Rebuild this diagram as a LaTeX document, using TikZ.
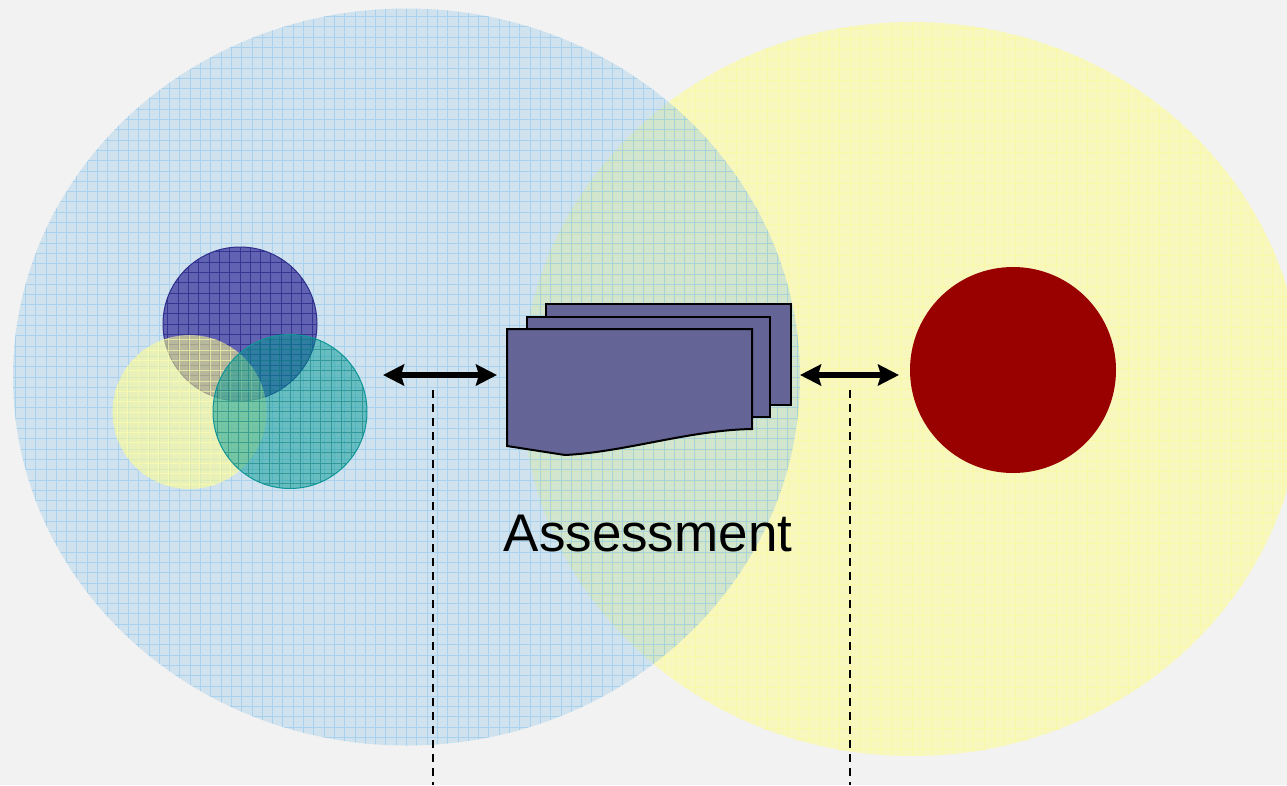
\documentclass[tikz,border=0pt]{standalone}
\usepackage{fontspec}
\setmainfont{Liberation Sans}
\usetikzlibrary{shapes.geometric,arrows.meta}
\definecolor{bg}{HTML}{F2F2F2}
\definecolor{bigyellow}{HTML}{F8F8BE}
\definecolor{bigyellowgrid}{HTML}{F8F8A6}
\definecolor{bigblue}{RGB}{155,202,232}
\definecolor{bigbluegrid}{RGB}{120,190,235}
\definecolor{smallblue}{HTML}{6262B2}
\definecolor{smallbluegrid}{HTML}{2A2A8A}
\definecolor{smallblueedge}{HTML}{2E2E8C}
\definecolor{smallyellow}{RGB}{255,255,140}
\definecolor{smallyellowgrid}{RGB}{255,255,170}
\definecolor{teal}{RGB}{0,154,148}
\definecolor{tealgrid}{RGB}{0,120,120}
\definecolor{tealedge}{RGB}{16,150,150}
\definecolor{docfill}{HTML}{646496}
\definecolor{darkred}{HTML}{990000}
\tikzset{
  gridded/.style={path picture={\draw[step=10.3pt,line width=0.9pt,#1]
      (path picture bounding box.south west) grid (path picture bounding box.north east);}},
  bigoval/.style={ellipse, inner sep=0pt, draw=none},
  smallcirc/.style={circle, inner sep=0pt, minimum size=154pt},
  sheet/.style={draw=black, line width=2pt, fill=docfill, line join=miter},
  twoway/.style={line width=5.5pt, {Stealth[length=21pt,width=21pt,inset=3pt]}-{Stealth[length=21pt,width=21pt,inset=3pt]}},
  guide/.style={line width=2.4pt, dash pattern=on 8pt off 6pt},
}
\begin{document}
\begin{tikzpicture}[x=1pt,y=-1pt]
\useasboundingbox[fill=bg] (0,0) rectangle (1287,785);
% large ovals
\node[bigoval, minimum width=780pt, minimum height=734pt, fill=bigyellow,
  gridded={draw=bigyellowgrid}] (yellowzone) at (912,389) {};
\node[bigoval, minimum width=787pt, minimum height=737pt, fill=bigblue, fill opacity=0.4,
  gridded={draw=bigbluegrid, draw opacity=0.45}] (bluezone) at (406.5,377) {};
% three small circles
\node[smallcirc, fill=smallblue, draw=smallblueedge, line width=1pt,
  gridded={draw=smallbluegrid, draw opacity=0.8}] (cblue) at (240,324) {};
\node[smallcirc, fill=smallyellow, fill opacity=0.55,
  gridded={draw=smallyellowgrid, draw opacity=0.6}] (cyellow) at (189.5,412) {};
\node[smallcirc, fill=teal, fill opacity=0.5, draw=tealedge, line width=1pt,
  gridded={draw=tealgrid, draw opacity=0.5}] (cteal) at (290,411.5) {};
% document stack
\node[sheet, rectangle, inner sep=0pt, minimum width=245pt, minimum height=101pt] (sheetback) at (668.5,354.5) {};
\node[sheet, rectangle, inner sep=0pt, minimum width=243pt, minimum height=100pt] (sheetmid) at (648.5,366.5) {};
\draw[sheet] (507,329) -- (752,329) -- (752,429)
  .. controls (690,430) and (625,452) .. (565,455) -- (507,446) -- cycle;
\coordinate (docfront) at (629,390);
% red circle
\node[circle, inner sep=0pt, minimum size=206pt, fill=darkred] (redc) at (1013,370) {};
% arrows
\coordinate (la1) at (383,375);
\coordinate (la2) at (497,375);
\coordinate (ra1) at (800,375);
\coordinate (ra2) at (899,375);
\draw[twoway] (la1) -- (la2);
\draw[twoway] (ra1) -- (ra2);
% dashed guides
\coordinate (ld1) at (433,390);
\coordinate (ld2) at (433,785);
\coordinate (rd1) at (850,390);
\coordinate (rd2) at (850,785);
\draw[guide] (ld1) -- (ld2);
\draw[guide] (rd1) -- (rd2);
% label
\node[anchor=base, inner sep=0pt, font=\fontsize{53}{60}\selectfont] (label) at (648,551) {Assessment};
\end{tikzpicture}
\end{document}
